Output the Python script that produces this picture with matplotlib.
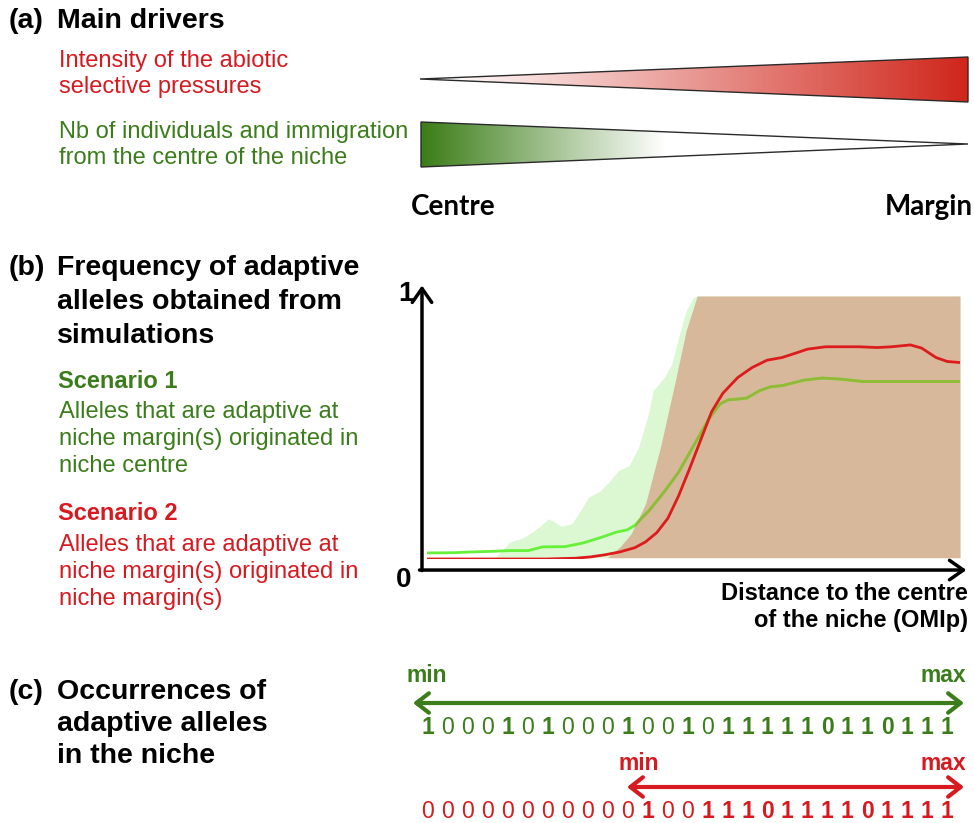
import numpy as np
import matplotlib
matplotlib.use("Agg")
import matplotlib.pyplot as plt
from matplotlib.patches import Polygon
from matplotlib.colors import to_rgb

plt.rcParams['font.family'] = ['Liberation Sans', 'DejaVu Sans']

# ---------------- data ----------------
# (b) simulated frequency curves (x: normalised distance to niche centre, y: frequency)
green_x = [0.0, 0.052, 0.086, 0.121, 0.155, 0.190, 0.217, 0.259, 0.293, 0.328, 0.355, 0.376,
           0.390, 0.417, 0.445, 0.472, 0.500, 0.528, 0.550, 0.565, 0.583, 0.600, 0.624, 0.645,
           0.666, 0.707, 0.741, 0.776, 0.817, 0.845, 0.914, 1.0]
green_y = [0.023, 0.024, 0.027, 0.029, 0.032, 0.032, 0.046, 0.047, 0.061, 0.083, 0.102, 0.111,
           0.128, 0.185, 0.255, 0.330, 0.430, 0.530, 0.590, 0.605, 0.608, 0.612, 0.640, 0.655,
           0.659, 0.680, 0.688, 0.684, 0.675, 0.675, 0.675, 0.675]
red_x = [0.0, 0.086, 0.155, 0.224, 0.279, 0.307, 0.334, 0.362, 0.390, 0.410, 0.431, 0.452,
         0.472, 0.493, 0.514, 0.534, 0.555, 0.583, 0.610, 0.638, 0.666, 0.686, 0.714, 0.748,
         0.810, 0.845, 0.872, 0.907, 0.928, 0.955, 0.976, 1.0]
red_y = [0.0, 0.0, 0.0, 0.0, 0.003, 0.008, 0.016, 0.027, 0.043, 0.065, 0.100, 0.155,
         0.240, 0.345, 0.455, 0.560, 0.630, 0.690, 0.728, 0.756, 0.766, 0.779, 0.798, 0.807,
         0.807, 0.804, 0.807, 0.814, 0.802, 0.766, 0.751, 0.747]
# ranges of simulated frequencies
green_band_x = [0.128, 0.155, 0.183, 0.210, 0.228, 0.252, 0.272, 0.290, 0.303, 0.324, 0.341,
                0.359, 0.379, 0.397, 0.417, 0.424, 0.445, 0.459, 0.472, 0.486, 0.500, 0.507, 1.0]
green_band_y = [0.005, 0.064, 0.083, 0.121, 0.153, 0.124, 0.134, 0.191, 0.235, 0.258, 0.292,
                0.336, 0.355, 0.425, 0.564, 0.640, 0.690, 0.741, 0.842, 0.943, 0.994, 1.0, 1.0]
red_band_x = [0.338, 0.362, 0.383, 0.410, 0.438, 0.466, 0.486, 0.507, 1.0]
red_band_y = [0.005, 0.046, 0.096, 0.210, 0.425, 0.678, 0.867, 1.0, 1.0]

# (c) occurrences of adaptive alleles along the niche
green_occ = [1, 0, 0, 0, 1, 0, 1, 0, 0, 0, 1, 0, 0, 1, 0, 1, 1, 1, 1, 1, 0, 1, 1, 0, 1, 1, 1]
green_bold = [1, 0, 0, 0, 1, 0, 1, 0, 0, 0, 1, 0, 0, 1, 0, 1, 1, 1, 1, 1, 1, 1, 1, 1, 1, 1, 1]
red_occ = [0, 0, 0, 0, 0, 0, 0, 0, 0, 0, 0, 1, 0, 0, 1, 1, 1, 0, 1, 1, 1, 1, 0, 1, 1, 1, 1]
red_bold = [0, 0, 0, 0, 0, 0, 0, 0, 0, 0, 0, 1, 0, 0, 1, 1, 1, 1, 1, 1, 1, 1, 1, 1, 1, 1, 1]

GREEN = '#3b7d1b'
RED = '#d71920'
W, H = 974, 823

fig = plt.figure(figsize=(W / 100, H / 100), dpi=100)
fig.patch.set_facecolor('white')
ax0 = fig.add_axes([0, 0, 1, 1])
ax0.set_xlim(0, W)
ax0.set_ylim(H, 0)
ax0.axis('off')

HS = 20.5   # header size
NS = 17     # normal size


def txt(x, y, s, size=NS, color='black', bold=False, ha='left', family=None):
    kw = {}
    if family is not None:
        kw['family'] = family
    ax0.text(x, y, s, fontsize=size, color=color, ha=ha, va='center',
             fontweight='bold' if bold else 'normal', **kw)


# ---------------- (a) ----------------
txt(9, 21, '(a)', HS, bold=True)
txt(57, 21, 'Main drivers', HS, bold=True)
txt(59, 61, 'Intensity of the abiotic', NS, RED)
txt(59, 87, 'selective pressures', NS, RED)
txt(59, 132, 'Nb of individuals and immigration', NS, GREEN)
txt(59, 158, 'from the centre of the niche', NS, GREEN)


def grad_tri(verts, x0, x1, c0, c1, g0, g1):
    poly = Polygon(verts, closed=True, facecolor='none', edgecolor='#2a2a2a', lw=1.0, zorder=3)
    ax0.add_patch(poly)
    xs = np.linspace(x0, x1, 400)
    t = np.clip((xs - g0) / (g1 - g0), 0, 1)[:, None]
    cols = (1 - t) * np.array(to_rgb(c0)) + t * np.array(to_rgb(c1))
    ys = [v[1] for v in verts]
    im = ax0.imshow(cols[None, :, :], extent=(x0, x1, max(ys), min(ys)), aspect='auto',
                    interpolation='bilinear', zorder=2)
    im.set_clip_path(poly)


grad_tri([(420, 79), (968, 57), (968, 102)], 420, 968, '#ffffff', '#d0261b', 445, 968)
grad_tri([(421, 122), (421, 167), (968, 144)], 421, 968, '#3b7d17', '#ffffff', 421, 665)
ax0.set_xlim(0, W)
ax0.set_ylim(H, 0)

txt(411, 207, 'Centre', 20, bold=True, family=['Lato', 'DejaVu Sans'])
txt(973, 207, 'Margin', 20, bold=True, ha='right', family=['Lato', 'DejaVu Sans'])

# ---------------- (b) text ----------------
txt(9, 268, '(b)', HS, bold=True)
txt(57, 268, 'Frequency of adaptive', HS, bold=True)
txt(57, 302, 'alleles obtained from', HS, bold=True)
txt(57, 336, 'simulations', HS, bold=True)
txt(58, 381, 'Scenario 1', 17, GREEN, bold=True)
txt(59, 412, 'Alleles that are adaptive at', NS, GREEN)
txt(59, 439, 'niche margin(s) originated in', NS, GREEN)
txt(59, 466, 'niche centre', NS, GREEN)
txt(58, 514, 'Scenario 2', 17, RED, bold=True)
txt(59, 545, 'Alleles that are adaptive at', NS, RED)
txt(59, 572, 'niche margin(s) originated in', NS, RED)
txt(59, 599, 'niche margin(s)', NS, RED)

txt(398, 294, '1', 20, bold=True)
txt(396, 580, '0', 20, bold=True)
txt(968, 593, 'Distance to the centre', 17, bold=True, ha='right')
txt(968, 621, 'of the niche (OMIp)', 17, bold=True, ha='right')

# ---------------- (b) chart ----------------
ax = fig.add_axes([427 / W, (H - 559) / H, 533 / W, 263 / H])
ax.set_xlim(0, 1)
ax.set_ylim(0, 1)
ax.axis('off')

ax.fill_between(green_band_x, 0.005, green_band_y, color='#dbf8d2', lw=0, zorder=1)
rb = ax.fill_between(red_band_x, 0.005, red_band_y, color='#d8b89b', lw=0, zorder=2)
ax.plot([1.0, 1.0], [0.005, 1.0], color='#e8b0a8', lw=1, zorder=2)
ax.plot(green_x, green_y, color='#66f03a', lw=2, zorder=3, solid_capstyle='butt')
# green curve appears olive where it lies over the brown band
gl = ax.plot(green_x, green_y, color='#94b83a', lw=2, zorder=4, solid_capstyle='butt')[0]
gl.set_clip_path(rb.get_paths()[0], ax.transData)
ax.plot(red_x, red_y, color='#dc1c1c', lw=2, zorder=5)

ax.annotate('', xy=(-0.0094, 1.040), xytext=(-0.0094, -0.044),
            arrowprops=dict(arrowstyle='->,head_length=0.5,head_width=0.35', lw=2.5, color='black',
                            mutation_scale=20, shrinkA=0, shrinkB=0), annotation_clip=False)
ax.annotate('', xy=(1.012, -0.042), xytext=(-0.014, -0.042),
            arrowprops=dict(arrowstyle='->,head_length=0.5,head_width=0.35', lw=2.5, color='black',
                            mutation_scale=20, shrinkA=0, shrinkB=0), annotation_clip=False)

# ---------------- (c) ----------------
txt(9, 692, '(c)', HS, bold=True)
txt(57, 692, 'Occurrences of', HS, bold=True)
txt(57, 724, 'adaptive alleles', HS, bold=True)
txt(57, 756, 'in the niche', HS, bold=True)

txt(406, 675, 'min', 16.5, GREEN, bold=True)
txt(966, 675, 'max', 16.5, GREEN, bold=True, ha='right')
ax0.annotate('', xy=(964, 703), xytext=(413, 703),
             arrowprops=dict(arrowstyle='<->,head_length=0.45,head_width=0.35', lw=3, color=GREEN,
                             mutation_scale=20, shrinkA=0, shrinkB=0))
txt(619, 763, 'min', 16.5, RED, bold=True)
txt(966, 763, 'max', 16.5, RED, bold=True, ha='right')
ax0.annotate('', xy=(964, 787), xytext=(627, 787),
             arrowprops=dict(arrowstyle='<->,head_length=0.45,head_width=0.35', lw=3, color=RED,
                             mutation_scale=20, shrinkA=0, shrinkB=0))

step = (947 - 428) / 26
for i, (v, b) in enumerate(zip(green_occ, green_bold)):
    ax0.text(428 + i * step, 727, str(v), fontsize=16.5, color=GREEN, ha='center', va='center',
             fontweight='bold' if b else 'normal')
for i, (v, b) in enumerate(zip(red_occ, red_bold)):
    ax0.text(428 + i * step, 811, str(v), fontsize=16.5, color=RED, ha='center', va='center',
             fontweight='bold' if b else 'normal')

fig.savefig('out.png', dpi=100, facecolor='white')
